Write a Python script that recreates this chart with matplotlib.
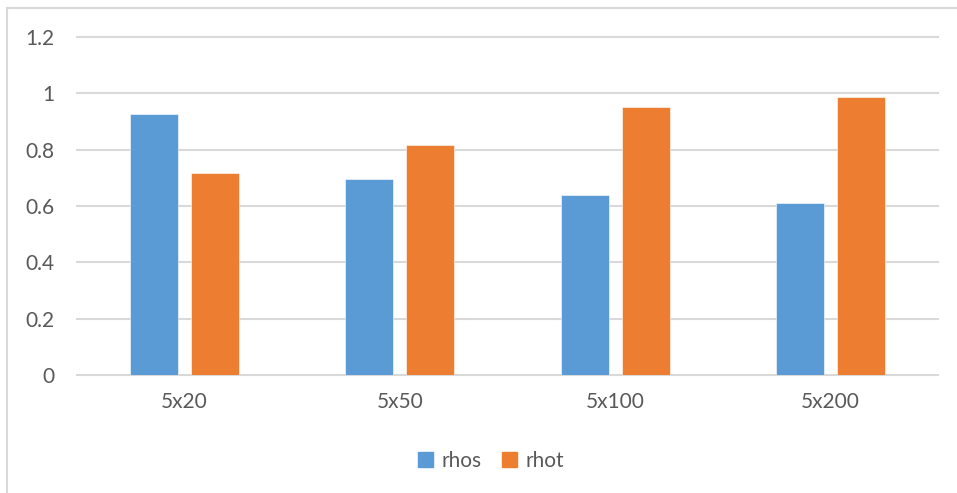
import matplotlib
matplotlib.use("Agg")
import matplotlib.pyplot as plt
import numpy as np
from matplotlib.lines import Line2D
from matplotlib.patches import Patch

categories = ["5x20", "5x50", "5x100", "5x200"]
rhos = [0.927, 0.696, 0.638, 0.612]
rhot = [0.716, 0.817, 0.950, 0.986]
yticks = [0, 0.2, 0.4, 0.6, 0.8, 1.0, 1.2]
ytick_labels = ["0", "0.2", "0.4", "0.6", "0.8", "1", "1.2"]

blue = "#5B9BD5"
orange = "#ED7D31"
text_color = "#595959"
grid_color = "#D9D9D9"

plt.rcParams["font.family"] = ["Lato", "DejaVu Sans"]

W, H = 957, 493
fig = plt.figure(figsize=(W / 100, H / 100), dpi=100)

# chart area frame (left and top edges)
fig.add_artist(Line2D([7 / W, 7 / W], [0, 1 - 8 / H], color=grid_color, lw=1.5))
fig.add_artist(Line2D([7 / W, 1], [1 - 8 / H, 1 - 8 / H], color=grid_color, lw=1.5))

left, right = 77 / W, 938 / W
bottom, top = 1 - 375 / H, 1 - 37 / H
ax = fig.add_axes([left, bottom, right - left, top - bottom])

x = np.arange(len(categories))
bw = 0.223
off = 0.142
ax.bar(x - off, rhos, bw, color=blue, edgecolor="white", linewidth=0.4, label="rhos", zorder=3)
ax.bar(x + off, rhot, bw, color=orange, edgecolor="white", linewidth=0.4, label="rhot", zorder=3)

ax.set_xlim(-0.5, len(categories) - 0.5)
ax.set_ylim(0, 1.2)
ax.set_yticks(yticks)
ax.set_yticklabels(ytick_labels)
ax.set_xticks(x)
ax.set_xticklabels(categories)

for y in yticks:
    ax.axhline(y, color=grid_color, lw=1.5, zorder=1, clip_on=False)

for s in ax.spines.values():
    s.set_visible(False)
ax.tick_params(axis="both", length=0, colors=text_color, labelsize=15)
ax.tick_params(axis="y", pad=16)
ax.tick_params(axis="x", pad=12)

handles = [Patch(color=blue), Patch(color=orange)]
fig.legend(handles, ["rhos", "rhot"], loc="center", bbox_to_anchor=(491 / W, 1 - 461 / H),
           ncol=2, frameon=False, fontsize=15, handlelength=0.7, handleheight=0.7,
           handletextpad=0.4, columnspacing=1.0, labelcolor=text_color)

fig.savefig("out.png", dpi=100)
